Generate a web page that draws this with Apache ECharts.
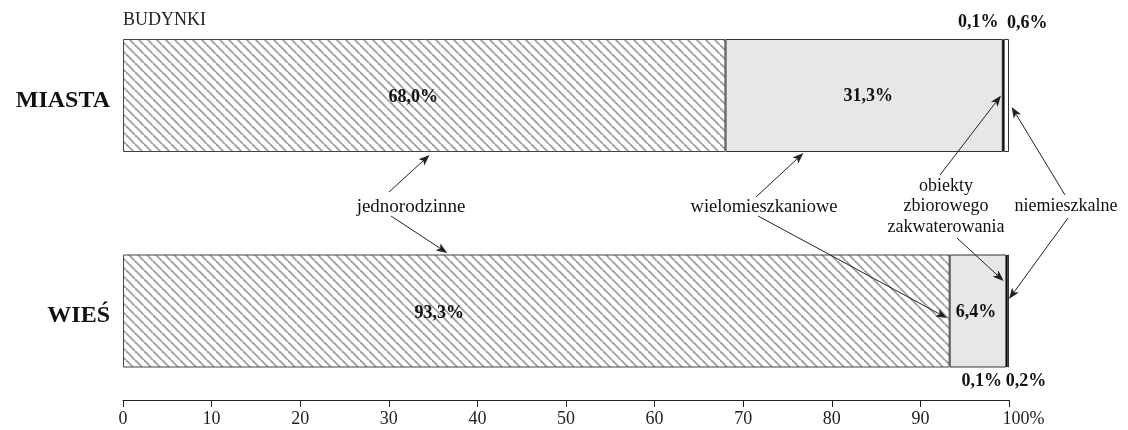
<!DOCTYPE html>
<html>
<head>
<meta charset="utf-8">
<script src="https://cdn.jsdelivr.net/npm/echarts@6/dist/echarts.min.js"></script>
<style>
html,body{margin:0;padding:0;background:#fff;}
#chart{width:1128px;height:430px;}
</style>
</head>
<body>
<div id="chart"></div>
<script>
// ---- data ----
const categories = ['MIASTA', 'WIEŚ'];
const jednorodzinne = [68.0, 93.3];
const wielomieszkaniowe = [31.3, 6.4];
const zbiorowe = [0.1, 0.1];
const niemieszkalne = [0.6, 0.2];
const xTickValues = [0, 10, 20, 30, 40, 50, 60, 70, 80, 90, 100];
const title = 'BUDYNKI';

// ---- styling / layout (not data) ----
const FONT = '"Liberation Serif", "DejaVu Serif", serif';
const hatchLabelOffset = [-11, -97];
const greyLabelOffset = [4, -2];

function fmt(v) { return v.toFixed(1).replace('.', ',') + '%'; }

// hatch pattern
const s = 9;
const cv = document.createElement('canvas');
cv.width = s; cv.height = s;
const ctx = cv.getContext('2d');
ctx.fillStyle = '#fff';
ctx.fillRect(0, 0, s, s);
ctx.strokeStyle = '#a0a0a0';
ctx.lineWidth = 1.9;
for (let k = -1; k <= 1; k++) {
  ctx.beginPath();
  ctx.moveTo(k * s, 0);
  ctx.lineTo(k * s + s, s);
  ctx.stroke();
}

const chart = echarts.init(document.getElementById('chart'), null, {renderer: 'canvas'});

const valLabel = {
  show: true,
  fontFamily: FONT,
  fontWeight: 'bold',
  fontSize: 18,
  color: '#111',
  formatter: p => fmt(p.value)
};

const option = {
  animation: false,
  backgroundColor: '#fff',
  grid: {left: 123, right: 119, top: -12.25, height: 431, containLabel: false, outerBoundsMode: 'none'},
  xAxis: {
    type: 'value',
    min: 0, max: 100, interval: 10,
    offset: -18.75,
    axisLine: {show: true, lineStyle: {color: '#222', width: 1}},
    axisTick: {show: true, length: 7, lineStyle: {color: '#222', width: 1}},
    splitLine: {show: false},
    axisLabel: {
      fontFamily: FONT, fontSize: 18, color: '#222', margin: 10,
      formatter: v => v === 100 ? '{pad|}' + v + '%' : String(v),
      rich: {pad: {width: 29, height: 1}}
    }
  },
  yAxis: {
    type: 'category',
    data: categories,
    inverse: true,
    axisLine: {show: false},
    axisTick: {show: false},
    axisLabel: {show: false}
  },
  series: [
    {
      name: 'jednorodzinne', type: 'bar', stack: 'a', barWidth: 113,
      itemStyle: {color: {image: cv, repeat: 'repeat'}, borderColor: '#444', borderWidth: 1},
      label: Object.assign({}, valLabel, {position: 'inside'}),
      data: jednorodzinne.map((v, i) => ({value: v, label: {offset: [hatchLabelOffset[i], 2]}}))
    },
    {
      name: 'wielomieszkaniowe', type: 'bar', stack: 'a', barWidth: 113,
      itemStyle: {color: '#e6e7e9', borderColor: '#333', borderWidth: 1},
      label: Object.assign({}, valLabel, {position: 'inside'}),
      data: wielomieszkaniowe.map((v, i) => ({value: v, label: {offset: [greyLabelOffset[i], 1]}}))
    },
    {
      name: 'obiekty zbiorowego zakwaterowania', type: 'bar', stack: 'a', barWidth: 113,
      itemStyle: {color: '#000', borderColor: '#000', borderWidth: 1.5},
      label: Object.assign({}, valLabel),
      data: zbiorowe.map((v, i) => ({
        value: v,
        label: i === 0 ? {position: 'top', distance: 7, offset: [-25, 0]}
                       : {position: 'bottom', distance: 5, offset: [-25, 0]}
      }))
    },
    {
      name: 'niemieszkalne', type: 'bar', stack: 'a', barWidth: 113,
      itemStyle: {color: '#fff', borderColor: '#333', borderWidth: 1},
      label: Object.assign({}, valLabel),
      data: niemieszkalne.map((v, i) => ({
        value: v,
        label: i === 0 ? {position: 'top', distance: 7, offset: [21, 0]}
                       : {position: 'bottom', distance: 5, offset: [18, 0]}
      }))
    }
  ]
};
chart.setOption(option);

// ---- annotations ----
// tips: [x value on axis, category, dy px from bar centre]; start: pixel position of arrow tail
const arrows = [
  {from: [389, 192], tip: [34.6, 'MIASTA', 59.5]},
  {from: [391, 216], tip: [36.6, 'WIEŚ', -58]},
  {from: [756, 197], tip: [76.8, 'MIASTA', 57.5]},
  {from: [758, 216], tip: [93.0, 'WIEŚ', 7]},
  {from: [940, 175], tip: [99.1, 'MIASTA', 0]},
  {from: [957, 238], tip: [99.4, 'WIEŚ', -30]},
  {from: [1065, 195], tip: [100.3, 'MIASTA', 11.5]},
  {from: [1068, 218], tip: [100.0, 'WIEŚ', -12]}
];
const texts = [
  {t: 'jednorodzinne', x: 411, y: 207, fs: 19},
  {t: 'wielomieszkaniowe', x: 764, y: 207, fs: 18.5},
  {t: 'obiekty', x: 946, y: 186, fs: 18},
  {t: 'zbiorowego', x: 946, y: 206, fs: 18},
  {t: 'zakwaterowania', x: 946, y: 227, fs: 18},
  {t: 'niemieszkalne', x: 1066, y: 206, fs: 18}
];

const graphic = [];
graphic.push({
  type: 'text', left: 123, top: 11, z: 100,
  style: {text: title, font: '18px ' + FONT, fill: '#222'}
});
categories.forEach(c => {
  const cy = chart.convertToPixel({yAxisIndex: 0}, c);
  graphic.push({
    type: 'text', x: 110, y: cy + 5, z: 100,
    style: {text: c, font: 'bold 24px ' + FONT, fill: '#111', align: 'right', verticalAlign: 'middle'}
  });
});
texts.forEach(o => graphic.push({
  type: 'text', x: o.x, y: o.y, z: 100,
  style: {text: o.t, font: o.fs + 'px ' + FONT, fill: '#111', align: 'center', verticalAlign: 'middle'}
}));
const HL = 11, HW = 4.2;
arrows.forEach(a => {
  const tx = chart.convertToPixel({xAxisIndex: 0}, a.tip[0]);
  const ty = chart.convertToPixel({yAxisIndex: 0}, a.tip[1]) + a.tip[2];
  const fx = a.from[0], fy = a.from[1];
  const dx = tx - fx, dy = ty - fy;
  const len = Math.sqrt(dx * dx + dy * dy);
  const ux = dx / len, uy = dy / len;
  const bx = tx - ux * HL, by = ty - uy * HL;
  graphic.push({
    type: 'line', z: 100,
    shape: {x1: fx, y1: fy, x2: bx + ux * 2, y2: by + uy * 2},
    style: {stroke: '#222', lineWidth: 1}
  });
  graphic.push({
    type: 'polygon', z: 100,
    shape: {points: [[tx, ty], [bx - uy * HW, by + ux * HW], [bx + ux * 2.5, by + uy * 2.5], [bx + uy * HW, by - ux * HW]]},
    style: {fill: '#222'}
  });
});
chart.setOption({graphic: graphic});
</script>
</body>
</html>
